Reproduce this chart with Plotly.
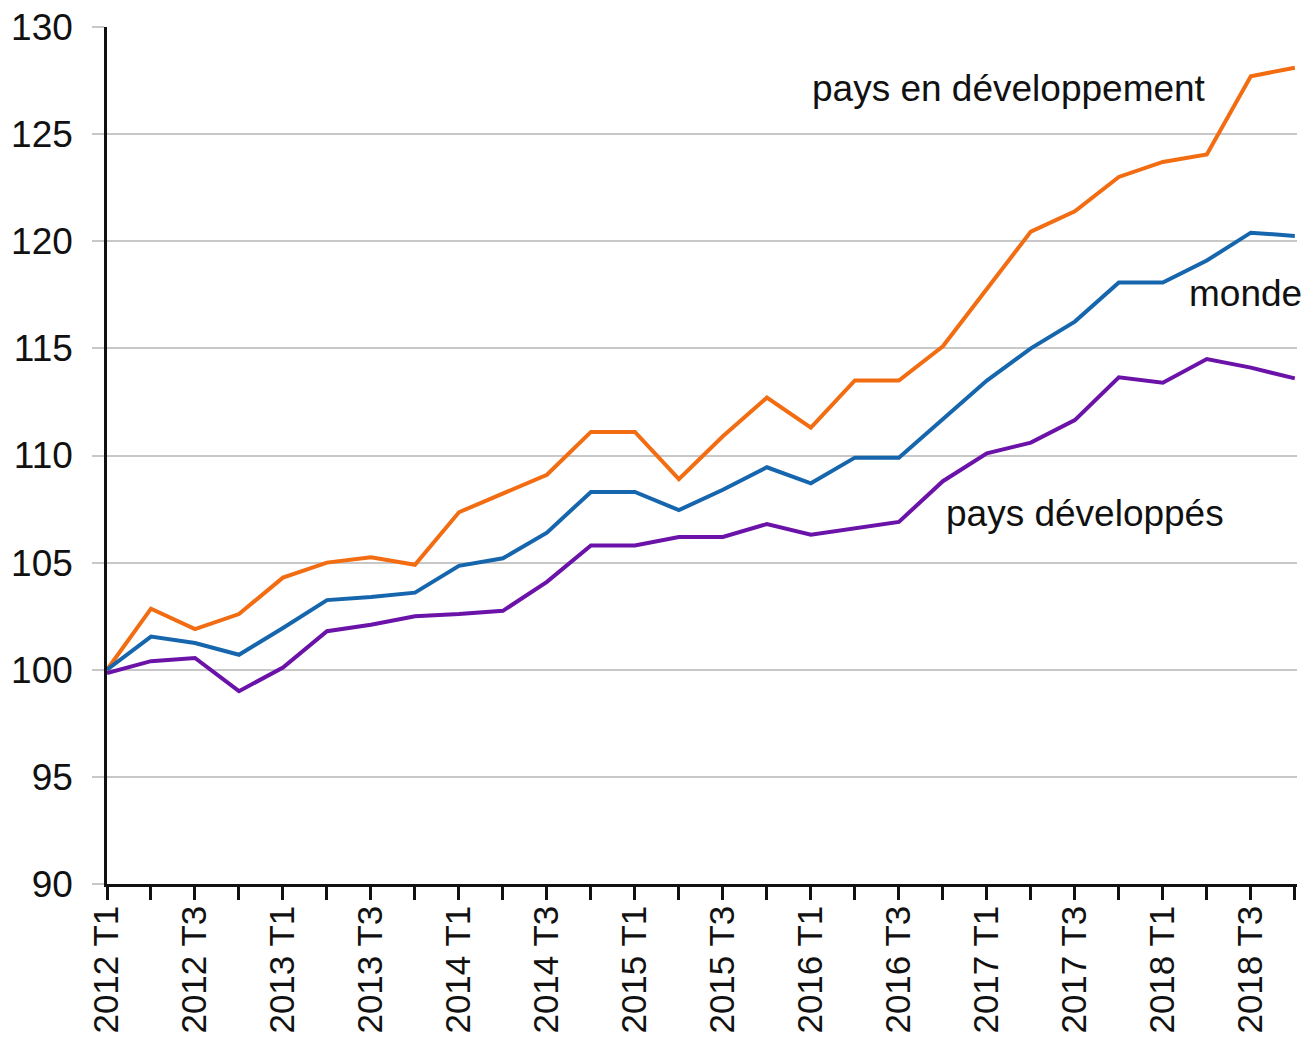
import plotly.graph_objects as go

categories = [f"{y} T{q}" for y in range(2012, 2019) for q in range(1, 5)]

pays_en_developpement = [100.0, 102.85, 101.9, 102.6, 104.3, 105.0, 105.25, 104.9,
                         107.35, 108.2, 109.1, 111.1, 111.1, 108.9, 110.9, 112.7,
                         111.3, 113.5, 113.5, 115.1, 117.8, 120.45, 121.4, 123.0,
                         123.7, 124.05, 127.7, 128.1]
monde = [100.0, 101.55, 101.25, 100.7, 101.95, 103.25, 103.4, 103.6,
         104.85, 105.2, 106.4, 108.3, 108.3, 107.45, 108.4, 109.45,
         108.7, 109.9, 109.9, 111.7, 113.5, 115.0, 116.25, 118.07,
         118.07, 119.1, 120.4, 120.25]
pays_developpes = [99.85, 100.4, 100.55, 99.0, 100.1, 101.8, 102.1, 102.5,
                   102.6, 102.75, 104.1, 105.8, 105.8, 106.2, 106.2, 106.8,
                   106.3, 106.6, 106.9, 108.8, 110.1, 110.6, 111.65, 113.65,
                   113.4, 114.5, 114.1, 113.6]

series_names = ["pays en développement", "monde", "pays développés"]
series_values = [pays_en_developpement, monde, pays_developpes]
series_colors = ["#F26C12", "#1666AE", "#6B12A8"]

y_ticks = [90, 95, 100, 105, 110, 115, 120, 125, 130]
tick_text = [c if i % 2 == 0 else "" for i, c in enumerate(categories)]

FONT = "Liberation Sans, Arial, sans-serif"
FS = 37

fig = go.Figure()
for name, vals, col in zip(series_names, series_values, series_colors):
    fig.add_trace(go.Scatter(x=categories, y=vals, mode="lines", name=name,
                             line=dict(color=col, width=4), cliponaxis=False))

# labels (text, x category position, y value)
labels = [
    ("pays en développement", 20.5, 127.15),
    ("monde", 25.88, 117.55),
    ("pays développés", 22.24, 107.3),
]
for txt, xi, yv in labels:
    fig.add_annotation(x=xi, y=yv, xref="x", yref="y", text=txt, showarrow=False,
                       font=dict(family=FONT, size=FS, color="#111111"),
                       xanchor="center", yanchor="middle")

fig.update_layout(
    width=1307, height=1043,
    margin=dict(l=107, r=10, t=27, b=159),
    paper_bgcolor="white", plot_bgcolor="white",
    showlegend=False,
    font=dict(family=FONT, size=FS, color="#111111"),
)
fig.update_xaxes(
    type="category", categoryorder="array", categoryarray=categories,
    range=[0, 27.05], automargin=False,
    tickmode="array", tickvals=categories, ticktext=tick_text,
    tickangle=-90, ticks="outside", ticklen=13, tickwidth=2.5, tickcolor="#111111",
    showline=True, linecolor="#111111", linewidth=2.5,
    showgrid=False, zeroline=False, ticklabelstandoff=-8,
    tickfont=dict(family=FONT, size=35, color="#111111"),
)
fig.update_yaxes(
    range=[90, 130], tickvals=y_ticks, automargin=False,
    ticks="outside", ticklen=12, tickwidth=2.2, tickcolor="#c8c8c8",
    showline=True, linecolor="#111111", linewidth=2.5,
    showgrid=True, gridcolor="#c8c8c8", gridwidth=2.2, zeroline=False,
    ticklabelstandoff=12,
    tickfont=dict(family=FONT, size=FS, color="#111111"),
)

fig.write_html(
    "out.html",
    config={"displayModeBar": False},
    post_script="document.body.style.margin='0';document.body.style.overflow='hidden';",
)
